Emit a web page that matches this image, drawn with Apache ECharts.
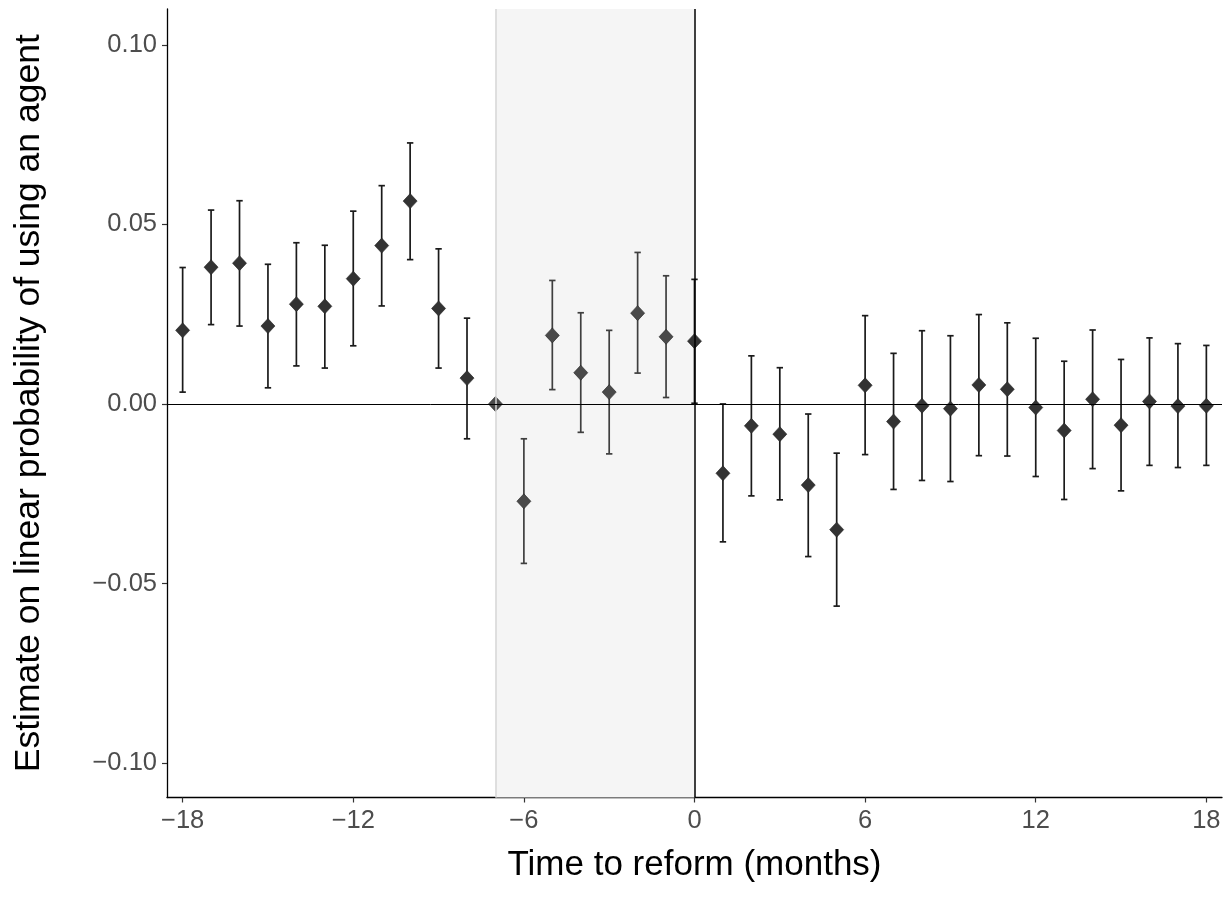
<!DOCTYPE html>
<html>
<head>
<meta charset="utf-8">
<script src="https://cdn.jsdelivr.net/npm/echarts@6/dist/echarts.min.js"></script>
<style>html,body{margin:0;padding:0;background:#fff}#chart{width:1229px;height:909px}</style>
</head>
<body>
<div id="chart"></div>
<script>
// Data
var months = [-18,-17,-16,-15,-14,-13,-12,-11,-10,-9,-8,-7,-6,-5,-4,-3,-2,-1,0,1,2,3,4,5,6,7,8,9,10,11,12,13,14,15,16,17,18];
var estimate = [0.0205,0.0381,0.0392,0.0217,0.0278,0.0272,0.0349,0.0441,0.0565,0.0266,0.0072,0.0000,-0.0271,0.0191,0.0087,0.0033,0.0253,0.0187,0.0175,-0.0193,-0.0061,-0.0084,-0.0226,-0.0350,0.0052,-0.0049,-0.0005,-0.0013,0.0053,0.0041,-0.0010,-0.0074,0.0013,-0.0059,0.0007,-0.0006,-0.0005];
var ciLow = [0.0033,0.0221,0.0217,0.0045,0.0106,0.0100,0.0162,0.0273,0.0402,0.0100,-0.0097,null,-0.0444,0.0040,-0.0079,-0.0139,0.0086,0.0018,0.0002,-0.0384,-0.0256,-0.0267,-0.0425,-0.0563,-0.0141,-0.0238,-0.0213,-0.0216,-0.0144,-0.0145,-0.0202,-0.0266,-0.0180,-0.0242,-0.0171,-0.0177,-0.0171];
var ciHigh = [0.0380,0.0540,0.0566,0.0389,0.0449,0.0442,0.0537,0.0608,0.0727,0.0432,0.0239,null,-0.0097,0.0344,0.0254,0.0205,0.0422,0.0357,0.0347,0.0000,0.0134,0.0101,-0.0028,-0.0137,0.0246,0.0141,0.0204,0.0190,0.0249,0.0226,0.0183,0.0119,0.0206,0.0124,0.0184,0.0168,0.0163];
var xTicks = [-18,-12,-6,0,6,12,18];
var yTicks = [-0.10,-0.05,0.00,0.05,0.10];
var shadeStart = -7, shadeEnd = 0;

function inShade(m){ return m > shadeStart && m < shadeEnd; }
function fmtMinus(s){ return String(s).replace('-', '\u2212'); }

var errData = [], ptData = [];
for (var i = 0; i < months.length; i++) {
  if (ciLow[i] !== null) errData.push([months[i], ciLow[i], ciHigh[i]]);
  ptData.push({value:[months[i], estimate[i]], itemStyle:{color: (inShade(months[i]) || months[i]===shadeStart) ? '#4a4a4a' : '#333333'}});
}

var FONT = 'Liberation Sans, Arial, Helvetica, sans-serif';
var chart = echarts.init(document.getElementById('chart'), null, {renderer:'canvas'});
chart.setOption({
  animation:false,
  backgroundColor:'#ffffff',
  grid:{left:167, right:7, top:9, bottom:111.5},
  xAxis:{
    type:'value', min:-18.55, max:18.55,
    name:'Time to reform (months)', nameLocation:'middle', nameGap:50,
    nameTextStyle:{fontFamily:FONT, fontSize:35, color:'#000'},
    axisLine:{show:true, onZero:false, lineStyle:{color:'#000', width:1.3}},
    axisTick:{show:true, length:5, customValues:xTicks, lineStyle:{color:'#333', width:1.2}},
    axisLabel:{customValues:xTicks, margin:10, fontFamily:FONT, fontSize:25.5, color:'#4d4d4d',
      formatter:function(v){ return fmtMinus(v); }},
    splitLine:{show:false}
  },
  yAxis:{
    type:'value', min:-0.1096, max:0.1100,
    name:'Estimate on linear probability of using an agent', nameLocation:'middle', nameGap:120,
    nameTextStyle:{fontFamily:FONT, fontSize:35.5, color:'#000'},
    axisLine:{show:true, onZero:false, lineStyle:{color:'#000', width:1.3}},
    axisTick:{show:true, length:5, customValues:yTicks, lineStyle:{color:'#333', width:1.2}},
    axisLabel:{customValues:yTicks, margin:10, fontFamily:FONT, fontSize:25.5, color:'#4d4d4d',
      formatter:function(v){ return fmtMinus(v.toFixed(2)); }},
    splitLine:{show:false}
  },
  series:[
    {
      type:'line', data:[], z:1, silent:true,
      markArea:{silent:true, itemStyle:{color:'#f5f5f5'},
        data:[[{xAxis:shadeStart, yAxis:-0.1096},{xAxis:shadeEnd, yAxis:0.1100}]]},
      markLine:{silent:true, symbol:'none', label:{show:false}, animation:false,
        data:[
          {xAxis:shadeStart, lineStyle:{color:'#d6d6d6', width:1.5, type:'solid'}},
          {yAxis:0, lineStyle:{color:'#000', width:1, type:'solid'}},
          {xAxis:shadeEnd, lineStyle:{color:'#000', width:1.5, type:'solid'}}
        ]}
    },
    {
      type:'custom', z:3, silent:true,
      data:errData,
      renderItem:function(params, api){
        var x = api.value(0);
        var lo = api.coord([x, api.value(1)]);
        var hi = api.coord([x, api.value(2)]);
        var col = inShade(x) ? '#3f3f3f' : '#1a1a1a';
        var cap = 3.2;
        var st = {stroke:col, lineWidth:1.7};
        return {type:'group', children:[
          {type:'line', shape:{x1:lo[0], y1:lo[1], x2:hi[0], y2:hi[1]}, style:st},
          {type:'line', shape:{x1:lo[0]-cap, y1:lo[1], x2:lo[0]+cap, y2:lo[1]}, style:st},
          {type:'line', shape:{x1:hi[0]-cap, y1:hi[1], x2:hi[0]+cap, y2:hi[1]}, style:st}
        ]};
      }
    },
    {
      type:'scatter', z:4, symbol:'diamond', symbolSize:[14,15],
      data:ptData,
      itemStyle:{borderColor:'#222', borderWidth:0.6, opacity:1}
    }
  ]
});
</script>
</body>
</html>
